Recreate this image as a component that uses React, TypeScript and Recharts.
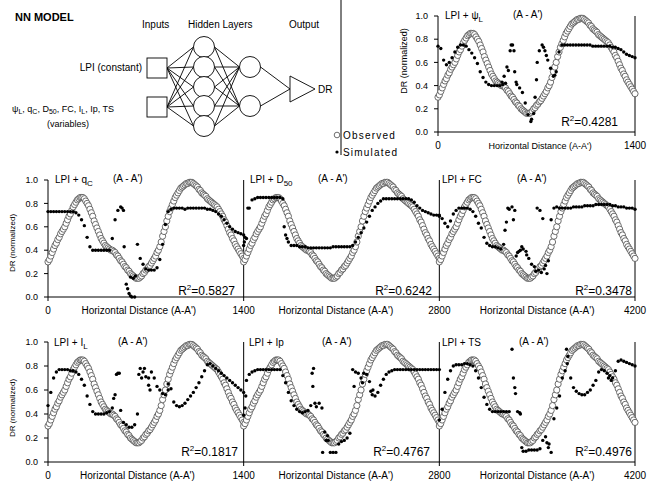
import React from "react"
import { ReferenceLine, Scatter, ScatterChart, XAxis, YAxis } from "recharts"

// every panel shows the same section A-A' (0-1400)
const PANEL = 1400
const OBS_STEP = 10
const SIM_STEP = 20

const OBSERVED = [
  0.30, 0.32, 0.35, 0.38, 0.41, 0.44, 0.46, 0.49, 0.51, 0.54,
  0.56, 0.58, 0.60, 0.63, 0.66, 0.69, 0.71, 0.74, 0.77, 0.79,
  0.81, 0.83, 0.84, 0.85, 0.85, 0.85, 0.84, 0.82, 0.80, 0.78,
  0.75, 0.72, 0.69, 0.65, 0.62, 0.59, 0.56, 0.53, 0.50, 0.48,
  0.46, 0.44, 0.43, 0.42, 0.41, 0.40, 0.40, 0.39, 0.38, 0.36,
  0.35, 0.33, 0.31, 0.30, 0.28, 0.26, 0.25, 0.23, 0.22, 0.20,
  0.19, 0.18, 0.17, 0.16, 0.16, 0.16, 0.17, 0.18, 0.20, 0.21,
  0.23, 0.24, 0.26, 0.27, 0.29, 0.31, 0.33, 0.35, 0.38, 0.40,
  0.43, 0.47, 0.52, 0.56, 0.60, 0.65, 0.69, 0.73, 0.76, 0.79,
  0.82, 0.85, 0.87, 0.89, 0.91, 0.93, 0.94, 0.95, 0.96, 0.97,
  0.97, 0.98, 0.98, 0.98, 0.97, 0.96, 0.95, 0.94, 0.92, 0.91,
  0.89, 0.88, 0.87, 0.86, 0.84, 0.83, 0.82, 0.81, 0.80, 0.79,
  0.78, 0.77, 0.75, 0.73, 0.71, 0.69, 0.66, 0.64, 0.61, 0.58,
  0.55, 0.53, 0.50, 0.48, 0.45, 0.43, 0.41, 0.39, 0.37, 0.35,
  0.33,
]

const SIM_PSI = [
  0.74, 0.72, 0.62, 0.58, 0.60, 0.64, 0.69, 0.73, 0.75, 0.75,
  0.74, 0.71, 0.68, 0.64, 0.59, 0.52, 0.47, 0.43, 0.41, 0.40,
  0.40, 0.40, 0.40, 0.41, 0.42, 0.53, 0.75, 0.70, 0.41, 0.38,
  0.34, 0.25, 0.15, 0.09, 0.16, 0.45, 0.70, 0.75, 0.70, 0.62,
  0.55, 0.48, 0.52, 0.69, 0.75, 0.75, 0.75, 0.75, 0.75, 0.75,
  0.75, 0.75, 0.75, 0.75, 0.75, 0.74, 0.74, 0.74, 0.74, 0.74,
  0.74, 0.74, 0.73, 0.73, 0.72, 0.71, 0.69, 0.67, 0.66, 0.65,
  0.64,
]
const SIM_QC = [
  0.73, 0.73, 0.73, 0.73, 0.73, 0.73, 0.73, 0.73, 0.73, 0.73,
  0.72, 0.70, 0.66, 0.61, 0.51, 0.43, 0.40, 0.40, 0.40, 0.40,
  0.40, 0.40, 0.40, 0.50, 0.66, 0.74, 0.77, 0.74, 0.11, 0.03,
  0.00, 0.00, 0.45, 0.33, 0.28, 0.24, 0.23, 0.23, 0.23, 0.25,
  0.32, 0.45, 0.62, 0.73, 0.75, 0.76, 0.76, 0.76, 0.76, 0.75,
  0.76, 0.76, 0.76, 0.76, 0.76, 0.76, 0.76, 0.75, 0.75, 0.74,
  0.73, 0.71, 0.69, 0.66, 0.63, 0.60, 0.58, 0.56, 0.55, 0.54,
  0.53,
]
const SIM_D50 = [
  0.44, 0.50, 0.76, 0.83, 0.84, 0.85, 0.85, 0.85, 0.85, 0.85,
  0.85, 0.85, 0.85, 0.85, 0.84, 0.53, 0.47, 0.44, 0.44, 0.44,
  0.43, 0.43, 0.43, 0.42, 0.42, 0.42, 0.42, 0.42, 0.42, 0.42,
  0.42, 0.42, 0.43, 0.43, 0.43, 0.43, 0.43, 0.43, 0.43, 0.44,
  0.47, 0.51, 0.55, 0.59, 0.64, 0.69, 0.74, 0.77, 0.80, 0.82,
  0.84, 0.84, 0.84, 0.84, 0.84, 0.84, 0.84, 0.84, 0.84, 0.84,
  0.83, 0.81, 0.78, 0.76, 0.74, 0.73, 0.72, 0.71, 0.70, 0.70,
  0.69,
]
const SIM_FC = [
  0.70, 0.67, 0.63, 0.60, 0.65, 0.71, 0.74, 0.76, 0.76, 0.76,
  0.76, 0.75, 0.73, 0.69, 0.63, 0.59, 0.51, 0.46, 0.44, 0.43,
  0.43, 0.42, 0.41, 0.45, 0.64, 0.75, 0.77, 0.74, 0.38, 0.40,
  0.41, 0.39, 0.33, 0.28, 0.26, 0.76, 0.74, 0.67, 0.27, 0.31,
  0.66, 0.76, 0.77, 0.76, 0.76, 0.76, 0.76, 0.76, 0.77, 0.77,
  0.77, 0.77, 0.78, 0.78, 0.78, 0.78, 0.79, 0.79, 0.79, 0.79,
  0.79, 0.79, 0.78, 0.78, 0.77, 0.77, 0.77, 0.76, 0.76, 0.76,
  0.75,
]
const SIM_IL = [
  0.47, 0.58, 0.70, 0.75, 0.77, 0.77, 0.77, 0.77, 0.76, 0.76,
  0.75, 0.73, 0.69, 0.64, 0.55, 0.48, 0.42, 0.40, 0.40, 0.40,
  0.40, 0.41, 0.42, 0.45, 0.56, 0.74, 0.43, 0.33, 0.31, 0.29,
  0.29, 0.31, 0.40, 0.78, 0.75, 0.71, 0.64, 0.75, 0.70, 0.63,
  0.60, 0.57, 0.56, 0.60, 0.61, 0.50, 0.47, 0.46, 0.47, 0.49,
  0.52, 0.55, 0.58, 0.62, 0.66, 0.71, 0.76, 0.81, 0.82, 0.80,
  0.78, 0.76, 0.74, 0.72, 0.70, 0.68, 0.66, 0.64, 0.62, 0.60,
  0.58,
]
const SIM_IP = [
  0.39, 0.68, 0.73, 0.75, 0.76, 0.77, 0.77, 0.77, 0.77, 0.77,
  0.77, 0.77, 0.77, 0.77, 0.72, 0.66, 0.58, 0.51, 0.47, 0.44,
  0.42, 0.41, 0.42, 0.43, 0.47, 0.78, 0.46, 0.49, 0.45, 0.25,
  0.22, 0.08, 0.08, 0.08, 0.15, 0.17, 0.18, 0.20, 0.24, 0.77,
  0.75, 0.74, 0.70, 0.74, 0.73, 0.67, 0.56, 0.55, 0.58, 0.64,
  0.69, 0.73, 0.75, 0.76, 0.77, 0.77, 0.77, 0.77, 0.77, 0.77,
  0.77, 0.77, 0.77, 0.77, 0.77, 0.77, 0.77, 0.77, 0.77, 0.77,
  0.77,
]
const SIM_TS = [
  0.35, 0.44, 0.58, 0.69, 0.76, 0.80, 0.81, 0.81, 0.81, 0.82,
  0.82, 0.81, 0.80, 0.76, 0.70, 0.62, 0.54, 0.48, 0.44, 0.42,
  0.42, 0.42, 0.42, 0.42, 0.42, 0.42, 0.94, 0.62, 0.42, 0.40,
  0.09, 0.09, 0.10, 0.10, 0.10, 0.10, 0.11, 0.18, 0.21, 0.12,
  0.08, 0.36, 0.45, 0.55, 0.70, 0.76, 0.88, 0.70, 0.62, 0.59,
  0.57, 0.56, 0.56, 0.58, 0.60, 0.64, 0.68, 0.75, 0.77, 0.76,
  0.74, 0.72, 0.70, 0.76, 0.84, 0.85, 0.84, 0.83, 0.82, 0.81,
  0.80,
]

// scattered simulated points off the main run: [distance, DR]
const EXTRA_PSI = [[455, 0.43], [470, 0.48], [490, 0.56], [513, 0.70], [530, 0.75], [545, 0.52], [555, 0.43], [665, 0.11], [690, 0.30], [705, 0.60], [750, 0.73], [770, 0.66], [830, 0.49]]
const EXTRA_QC = [[530, 0.76], [545, 0.43], [570, 0.07], [590, 0.01], [590, 0.17], [610, 0.16], [625, 0.18]]
const EXTRA_D50 = [[5, 0.47], [10, 0.51], [30, 0.76], [290, 0.60], [310, 0.50]]
const EXTRA_FC = [[470, 0.57], [490, 0.76], [530, 0.66], [550, 0.35], [570, 0.39], [590, 0.43], [625, 0.36], [690, 0.22], [710, 0.23], [730, 0.21], [750, 0.24], [770, 0.20]]
const EXTRA_IL = [[470, 0.53], [490, 0.73], [510, 0.74], [650, 0.73], [670, 0.70], [690, 0.78], [720, 0.70], [730, 0.60], [860, 0.65]]
const EXTRA_IP = [[10, 0.45], [15, 0.55], [490, 0.74], [495, 0.63], [510, 0.49], [565, 0.08], [590, 0.18], [605, 0.18], [790, 0.63], [850, 0.66], [910, 0.59], [925, 0.60]]
const EXTRA_TS = [[530, 0.70], [545, 0.57], [575, 0.41], [590, 0.12], [770, 0.16], [785, 0.15], [910, 0.94], [915, 0.82], [1210, 0.70], [1230, 0.68]]

const Y_TICKS = [0, 0.2, 0.4, 0.6, 0.8, 1.0]
const TOP_TICKS = [0, 725, 1400]
const MID_TICKS = [0, 650, 1400, 2060, 2800, 3500, 4200]
const LOW_TICKS = [0, 640, 1400, 2060, 2800, 3500, 4200]

const FONT = "'Liberation Sans', Arial, sans-serif"

const MID_ROW = [
  { sim: SIM_QC, extra: EXTRA_QC },
  { sim: SIM_D50, extra: EXTRA_D50 },
  { sim: SIM_FC, extra: EXTRA_FC },
]
const LOW_ROW = [
  { sim: SIM_IL, extra: EXTRA_IL },
  { sim: SIM_IP, extra: EXTRA_IP },
  { sim: SIM_TS, extra: EXTRA_TS },
]

const toPoints = (vals: number[], step: number, offset: number, extra: number[][] = []) => [
  ...vals.map((y, i) => ({ x: offset + i * step, y })),
  ...extra.map(([x, y]) => ({ x: offset + x, y })),
]

const OpenCircle = (p: any) => (
  <circle cx={p.cx} cy={p.cy} r={3.1} fill="#fff" stroke="#4a4a4a" strokeWidth={0.8} />
)
const Dot = (p: any) => <circle cx={p.cx} cy={p.cy} r={1.7} fill="#000" />

function makeTick(fontSize: number) {
  return (props: any) => {
    const { x, y, payload } = props
    const v = payload.value
    if (v % PANEL === 0) {
      return (
        <g>
          <line x1={x} x2={x} y1={y} y2={y + 4} stroke="#000" />
          <text x={x} y={y + 17} textAnchor="middle" fontSize={10} fontFamily={FONT} fill="#000">
            {v}
          </text>
        </g>
      )
    }
    return (
      <text x={x} y={y + 17} textAnchor="middle" fontSize={fontSize} fontFamily={FONT} fill="#000">
        Horizontal Distance (A-A')
      </text>
    )
  }
}

const yAxisProps = {
  type: "number" as const,
  dataKey: "y",
  domain: [0, 1],
  ticks: Y_TICKS,
  width: 30,
  tickSize: 4,
  tickMargin: 6,
  tickFormatter: (v: number) => v.toFixed(1),
  tick: { fontSize: 9, fill: "#000", fontFamily: FONT },
  axisLine: { stroke: "#000" },
  tickLine: { stroke: "#000" },
}

function Row({ top, height, margin, ticks, panels }: any) {
  return (
    <div style={{ position: "absolute", left: 0, top }}>
      <ScatterChart width={654} height={height} margin={margin}>
        <XAxis
          type="number"
          dataKey="x"
          domain={[0, 3 * PANEL]}
          ticks={ticks}
          interval={0}
          tick={makeTick(10)}
          tickLine={false}
          tickSize={0}
          tickMargin={0}
          height={20}
          axisLine={{ stroke: "#000" }}
        />
        <YAxis {...yAxisProps} />
        <ReferenceLine x={PANEL} stroke="#000" />
        <ReferenceLine x={2 * PANEL} stroke="#000" />
        <ReferenceLine x={3 * PANEL} stroke="#000" />
        {panels.map((_: any, i: number) => (
          <Scatter key={"o" + i} data={toPoints(OBSERVED, OBS_STEP, i * PANEL)} shape={OpenCircle} isAnimationActive={false} />
        ))}
        {panels.map((p: any, i: number) => (
          <Scatter key={"s" + i} data={toPoints(p.sim, SIM_STEP, i * PANEL, p.extra)} shape={Dot} isAnimationActive={false} />
        ))}
      </ScatterChart>
    </div>
  )
}

function Title({ x, y, main, sub }: { x: number; y: number; main: string; sub?: string }) {
  return (
    <text x={x} y={y} fontSize={10} fontFamily={FONT}>
      {main}
      {sub && (
        <tspan dy={2.5} fontSize={8}>
          {sub}
        </tspan>
      )}
    </text>
  )
}

function R2({ x, y, value }: { x: number; y: number; value: string }) {
  return (
    <text x={x} y={y} fontSize={12} fontFamily={FONT} textAnchor="end">
      R<tspan dy={-5} fontSize={8}>2</tspan>
      <tspan dy={5}>={value}</tspan>
    </text>
  )
}

function YLabel({ x, y, size }: { x: number; y: number; size: number }) {
  return (
    <text x={x} y={y} fontSize={size} fontFamily={FONT} textAnchor="middle" transform={`rotate(-90 ${x} ${y})`}>
      DR (normalized)
    </text>
  )
}

const H1 = [47, 67, 87, 106, 126]
const H2 = [67, 106]
const INS = [68, 107]

function Network() {
  return (
    <g stroke="#000" strokeWidth={0.9} fill="#fff">
      {INS.map((a) => H1.map((b) => <line key={`${a}-${b}`} x1={167} y1={a} x2={193.5} y2={b} />))}
      {H1.map((a) => H2.map((b) => <line key={`${a}-${b}`} x1={214.5} y1={a} x2={239.5} y2={b} />))}
      {H2.map((a) => <line key={a} x1={260.5} y1={a} x2={290} y2={89} />)}
      {INS.map((a) => <rect key={a} x={147} y={a - 10} width={20} height={20} />)}
      {H1.map((a) => <circle key={a} cx={204} cy={a} r={10.5} />)}
      {H2.map((a) => <circle key={a} cx={250} cy={a} r={10.5} />)}
      <polygon points="290,76 290,102 315,89" />
    </g>
  )
}

export default function App() {
  return (
    <div style={{ position: "absolute", left: 0, top: 0, width: 654, height: 487, background: "#fff" }}>
      {/* top right: LPI + psi_L */}
      <div style={{ position: "absolute", left: 0, top: 0 }}>
        <ScatterChart width={654} height={160} margin={{ top: 16, right: 19, bottom: 8, left: 408 }}>
          <XAxis
            type="number"
            dataKey="x"
            domain={[0, PANEL]}
            ticks={TOP_TICKS}
            interval={0}
            tick={makeTick(9)}
            tickLine={false}
            tickSize={0}
            tickMargin={0}
            height={20}
            axisLine={{ stroke: "#000" }}
          />
          <YAxis {...yAxisProps} />
          <ReferenceLine x={PANEL} stroke="#000" />
          <Scatter data={toPoints(OBSERVED, OBS_STEP, 0)} shape={OpenCircle} isAnimationActive={false} />
          <Scatter data={toPoints(SIM_PSI, SIM_STEP, 0, EXTRA_PSI)} shape={Dot} isAnimationActive={false} />
        </ScatterChart>
      </div>

      <Row top={160} height={165} margin={{ top: 20, right: 19, bottom: 8, left: 18 }} ticks={MID_TICKS} panels={MID_ROW} />
      <Row top={325} height={162} margin={{ top: 17, right: 19, bottom: 5, left: 18 }} ticks={LOW_TICKS} panels={LOW_ROW} />

      <svg width={654} height={487} style={{ position: "absolute", left: 0, top: 0, pointerEvents: "none" }}>
        <text x={15} y={21} fontSize={11} fontWeight="bold" fontFamily={FONT}>
          NN MODEL
        </text>
        <text x={142} y={28} fontSize={10} fontFamily={FONT}>Inputs</text>
        <text x={188} y={28} fontSize={10} fontFamily={FONT}>Hidden Layers</text>
        <text x={289} y={28} fontSize={10} fontFamily={FONT}>Output</text>
        <text x={142} y={71} fontSize={10} fontFamily={FONT} textAnchor="end">LPI (constant)</text>
        <text x={12} y={112} fontSize={9} fontFamily={FONT}>
          ψ<tspan dy={2} fontSize={7}>L</tspan>
          <tspan dy={-2}>, q</tspan>
          <tspan dy={2} fontSize={7}>C</tspan>
          <tspan dy={-2}>, D</tspan>
          <tspan dy={2} fontSize={7}>50</tspan>
          <tspan dy={-2}>, FC, I</tspan>
          <tspan dy={2} fontSize={7}>L</tspan>
          <tspan dy={-2}>, Ip, TS</tspan>
        </text>
        <text x={47} y={127} fontSize={9} fontFamily={FONT}>(variables)</text>
        <text x={318} y={93} fontSize={10} fontFamily={FONT}>DR</text>
        <Network />

        <line x1={341} y1={0} x2={341} y2={155} stroke="#000" />
        <circle cx={337} cy={135} r={2.8} fill="#fff" stroke="#4a4a4a" strokeWidth={0.8} />
        <text x={343} y={139} fontSize={10} letterSpacing={1.2} fontFamily={FONT}>Observed</text>
        <circle cx={337} cy={152} r={1.6} fill="#000" />
        <text x={343} y={156} fontSize={10} letterSpacing={1.2} fontFamily={FONT}>Simulated</text>

        <YLabel x={407} y={61} size={9} />
        <YLabel x={15} y={243} size={8} />
        <YLabel x={15} y={408} size={8} />

        <Title x={445} y={19} main="LPI + ψ" sub="L" />
        <text x={513} y={18} fontSize={10} fontFamily={FONT}>(A - A')</text>
        <R2 x={618} y={126} value="0.4281" />

        <Title x={55} y={183} main="LPI + q" sub="C" />
        <text x={113} y={182} fontSize={10} fontFamily={FONT}>(A - A')</text>
        <Title x={250} y={183} main="LPI + D" sub="50" />
        <text x={318} y={182} fontSize={10} fontFamily={FONT}>(A - A')</text>
        <Title x={442} y={183} main="LPI + FC" />
        <text x={517} y={182} fontSize={10} fontFamily={FONT}>(A - A')</text>
        <R2 x={235} y={295} value="0.5827" />
        <R2 x={432} y={295} value="0.6242" />
        <R2 x={632} y={295} value="0.3478" />

        <Title x={54} y={346} main="LPI + I" sub="L" />
        <text x={118} y={345} fontSize={10} fontFamily={FONT}>(A - A')</text>
        <Title x={249} y={346} main="LPI + Ip" />
        <text x={322} y={345} fontSize={10} fontFamily={FONT}>(A - A')</text>
        <Title x={442} y={346} main="LPI + TS" />
        <text x={519} y={345} fontSize={10} fontFamily={FONT}>(A - A')</text>
        <R2 x={238} y={456} value="0.1817" />
        <R2 x={430} y={456} value="0.4767" />
        <R2 x={632} y={456} value="0.4976" />
      </svg>
    </div>
  )
}
